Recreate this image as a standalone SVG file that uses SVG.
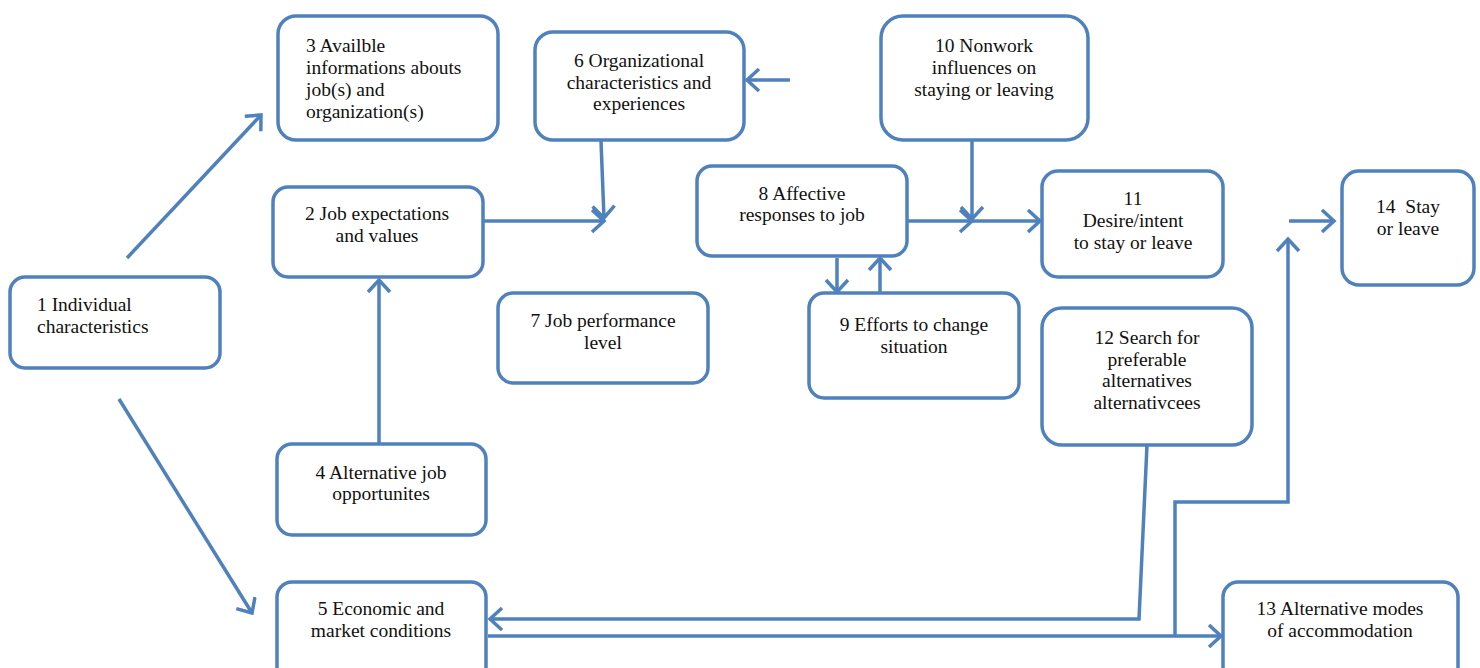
<svg xmlns="http://www.w3.org/2000/svg" width="1480" height="668" viewBox="0 0 1480 668">
<style>
.box{fill:#fff;stroke:#4f81bd;stroke-width:3.5}
.ln{fill:none;stroke:#4f81bd;stroke-width:3.5}
text{font-family:"Liberation Serif","Times New Roman",serif;font-size:19.5px;fill:#111}
.c{text-anchor:middle}
</style>
<defs>
<marker id="ah" markerUnits="userSpaceOnUse" markerWidth="24" markerHeight="30" refX="14" refY="12" orient="auto">
<path d="M2,1 L14,12 L2,23" fill="none" stroke="#4f81bd" stroke-width="3.5"/>
</marker>
</defs>
<rect width="1480" height="668" fill="#fff"/>
<g id="connectors">
<line class="ln" x1="127" y1="258" x2="261" y2="115" marker-end="url(#ah)"/>
<line class="ln" x1="119" y1="399" x2="252" y2="613" marker-end="url(#ah)"/>
<line class="ln" x1="379" y1="444" x2="379" y2="280" marker-end="url(#ah)"/>
<line class="ln" x1="484" y1="221" x2="604" y2="221" marker-end="url(#ah)"/>
<line class="ln" x1="601" y1="141" x2="604" y2="218" marker-end="url(#ah)"/>
<line class="ln" x1="790" y1="80" x2="747" y2="80" marker-end="url(#ah)"/>
<line class="ln" x1="908" y1="221" x2="972" y2="221" marker-end="url(#ah)"/>
<line class="ln" x1="972" y1="221" x2="1040" y2="221" marker-end="url(#ah)"/>
<line class="ln" x1="972" y1="141" x2="972" y2="219" marker-end="url(#ah)"/>
<line class="ln" x1="837" y1="258" x2="837" y2="292" marker-end="url(#ah)"/>
<line class="ln" x1="880" y1="292" x2="880" y2="258" marker-end="url(#ah)"/>
<line class="ln" x1="1289" y1="221" x2="1334" y2="221" marker-end="url(#ah)"/>
<polyline class="ln" points="1147,445 1139,619 490,619" marker-end="url(#ah)"/>
<line class="ln" x1="488" y1="636" x2="1221" y2="636" marker-end="url(#ah)"/>
<polyline class="ln" points="1175,636 1175,502 1288,502 1288,239" marker-end="url(#ah)"/>
</g>
<g id="n1"><rect class="box" x="10" y="277" width="210" height="91" rx="15"/>
<text x="37" y="311">1 Individual</text><text x="37" y="333">characteristics</text></g>
<g id="n2"><rect class="box" x="273" y="187" width="210" height="90" rx="15"/>
<text class="c" x="377" y="220">2 Job expectations</text><text class="c" x="377" y="242">and values</text></g>
<g id="n3"><rect class="box" x="278" y="16" width="220" height="124" rx="18"/>
<text x="306" y="52">3 Availble</text><text x="306" y="74">informations abouts</text><text x="306" y="96">job(s) and</text><text x="306" y="118">organization(s)</text></g>
<g id="n4"><rect class="box" x="277" y="444" width="209" height="91" rx="15"/>
<text class="c" x="381" y="479">4 Alternative job</text><text class="c" x="381" y="500">opportunites</text></g>
<g id="n5"><rect class="box" x="277" y="582" width="209" height="100" rx="15"/>
<text class="c" x="381" y="615">5 Economic and</text><text class="c" x="381" y="637">market conditions</text></g>
<g id="n6"><rect class="box" x="535" y="32" width="209" height="108" rx="18"/>
<text class="c" x="639" y="67">6 Organizational</text><text class="c" x="639" y="89">characteristics and</text><text class="c" x="639" y="110">experiences</text></g>
<g id="n7"><rect class="box" x="498" y="293" width="210" height="90" rx="15"/>
<text class="c" x="603" y="327">7 Job performance</text><text class="c" x="603" y="349">level</text></g>
<g id="n8"><rect class="box" x="697" y="166" width="210" height="90" rx="15"/>
<text class="c" x="802" y="200">8 Affective</text><text class="c" x="802" y="221">responses to job</text></g>
<g id="n9"><rect class="box" x="809" y="293" width="210" height="105" rx="15"/>
<text class="c" x="914" y="331">9 Efforts to change</text><text class="c" x="914" y="353">situation</text></g>
<g id="n10"><rect class="box" x="881" y="16" width="207" height="124" rx="22"/>
<text class="c" x="984" y="52">10 Nonwork</text><text class="c" x="984" y="74">influences on</text><text class="c" x="984" y="96">staying or leaving</text></g>
<g id="n11"><rect class="box" x="1042" y="171" width="181" height="106" rx="16"/>
<text class="c" x="1133" y="205">11</text><text class="c" x="1133" y="227">Desire/intent</text><text class="c" x="1133" y="249">to stay or leave</text></g>
<g id="n12"><rect class="box" x="1042" y="308" width="210" height="137" rx="20"/>
<text class="c" x="1147" y="344">12 Search for</text><text class="c" x="1147" y="366">preferable</text><text class="c" x="1147" y="387">alternatives</text><text class="c" x="1147" y="409">alternativcees</text></g>
<g id="n13"><rect class="box" x="1223" y="582" width="235" height="100" rx="15"/>
<text class="c" x="1340" y="615">13 Alternative modes</text><text class="c" x="1340" y="637">of accommodation</text></g>
<g id="n14"><rect class="box" x="1342" y="171" width="132" height="114" rx="17"/>
<text class="c" x="1408" y="213" xml:space="preserve">14  Stay</text><text class="c" x="1408" y="235">or leave</text></g>
</svg>
